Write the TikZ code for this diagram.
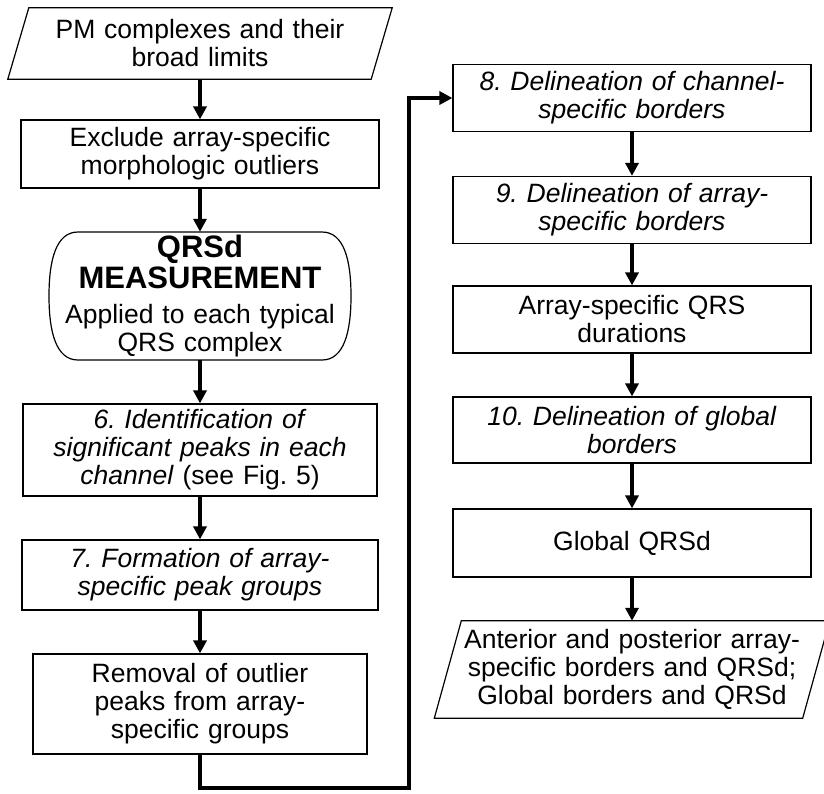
\documentclass[tikz,border=0pt]{standalone}
\usepackage{fontspec}
\setmainfont{Liberation Sans}
\usetikzlibrary{arrows.meta,calc}
\begin{document}
\begin{tikzpicture}[x=1pt,y=-1pt,
  txt/.style={font=\fontsize{26.5}{28}\selectfont\frenchspacing, inner sep=2pt, align=center},
  box/.style={txt, draw=black, line width=1.2pt},
  arr/.style={line width=4pt, -{Triangle[length=13pt,width=13pt]}, line join=miter},
  shapeline/.style={draw=black, line width=1.2pt}
]
\useasboundingbox (0,0) rectangle (824,793);
\fill[white] (0,0) rectangle (824,793);

% left column
\node[txt, minimum width=363pt, minimum height=71pt, text width=355pt] (p1) at (200,43.5) {PM complexes and their\\broad limits};
\draw[shapeline] ($(p1.north west)+(10.5,0)$) -- ($(p1.north east)+(10.5,0)$) -- ($(p1.south east)+(-10.5,0)$) -- ($(p1.south west)+(-10.5,0)$) -- cycle;

\node[box, minimum width=358pt, minimum height=68pt, text width=350pt] (ex) at (200,154) {Exclude array-specific\\morphologic outliers};

\node[txt, minimum width=303pt, minimum height=128pt, text width=295pt] (rnd) at (200,296) {{\fontsize{31}{31}\selectfont\bfseries QRSd\\MEASUREMENT\par}\vspace{7pt}Applied to each typical\\QRS complex\par\vspace{-10pt}};
\draw[shapeline] (78,232) -- (322,232) .. controls (344,232) and (351,260) .. (351,296) .. controls (351,332) and (344,360) .. (322,360) -- (78,360) .. controls (56,360) and (49,332) .. (49,296) .. controls (49,260) and (56,232) .. (78,232) -- cycle;

\node[box, minimum width=354pt, minimum height=92pt, text width=346pt] (b6) at (200,450) {\textit{6. Identification of}\\\textit{significant peaks in each}\\\textit{channel} (see Fig. 5)\par\vspace{-10pt}};

\node[box, minimum width=356pt, minimum height=70pt, text width=348pt] (b7) at (200,575) {\textit{7. Formation of array-}\\\textit{specific peak groups}};

\node[box, minimum width=334pt, minimum height=100pt, text width=326pt] (rem) at (200,704) {Removal of outlier\\peaks from array-\\specific groups\par\vspace{-8pt}};

% right column
\node[box, minimum width=358pt, minimum height=67pt, text width=350pt] (b8) at (632,98) {\textit{8. Delineation of channel-}\\\textit{specific borders}\par\vspace{-8pt}};
\node[box, minimum width=358pt, minimum height=67pt, text width=350pt] (b9) at (632,210) {\textit{9. Delineation of array-}\\\textit{specific borders}};
\node[box, minimum width=358pt, minimum height=67pt, text width=350pt] (aq) at (632,319.5) {Array-specific QRS\\durations};
\node[box, minimum width=358pt, minimum height=66pt, text width=350pt] (b10) at (632,430) {\textit{10. Delineation of global}\\\textit{borders}};
\node[box, minimum width=358pt, minimum height=68pt, text width=350pt] (gq) at (632,543) {Global QRSd};

\node[txt, minimum width=368pt, minimum height=97pt, text width=360pt] (out) at (632,669.5) {Anterior and posterior array-\\specific borders and QRSd;\\Global borders and QRSd\par\vspace{-6pt}};
\draw[shapeline] ($(out.north west)+(13.5,0)$) -- ($(out.north east)+(13.5,0)$) -- ($(out.south east)+(-13.5,0)$) -- ($(out.south west)+(-13.5,0)$) -- cycle;

% connectors
\coordinate (c1) at (200,788);
\coordinate (c2) at (409,788);
\coordinate (c3) at (409,98);

\draw[arr] (p1.south) -- (ex.north);
\draw[arr] (ex.south) -- (rnd.north);
\draw[arr] (rnd.south) -- (b6.north);
\draw[arr] (b6.south) -- (b7.north);
\draw[arr] (b7.south) -- (rem.north);
\draw[arr] (rem.south) -- (c1) -- (c2) -- (c3) -- (b8.west);
\draw[arr] (b8.south) -- (b9.north);
\draw[arr] (b9.south) -- (aq.north);
\draw[arr] (aq.south) -- (b10.north);
\draw[arr] (b10.south) -- (gq.north);
\draw[arr] (gq.south) -- (out.north);
\end{tikzpicture}
\end{document}
